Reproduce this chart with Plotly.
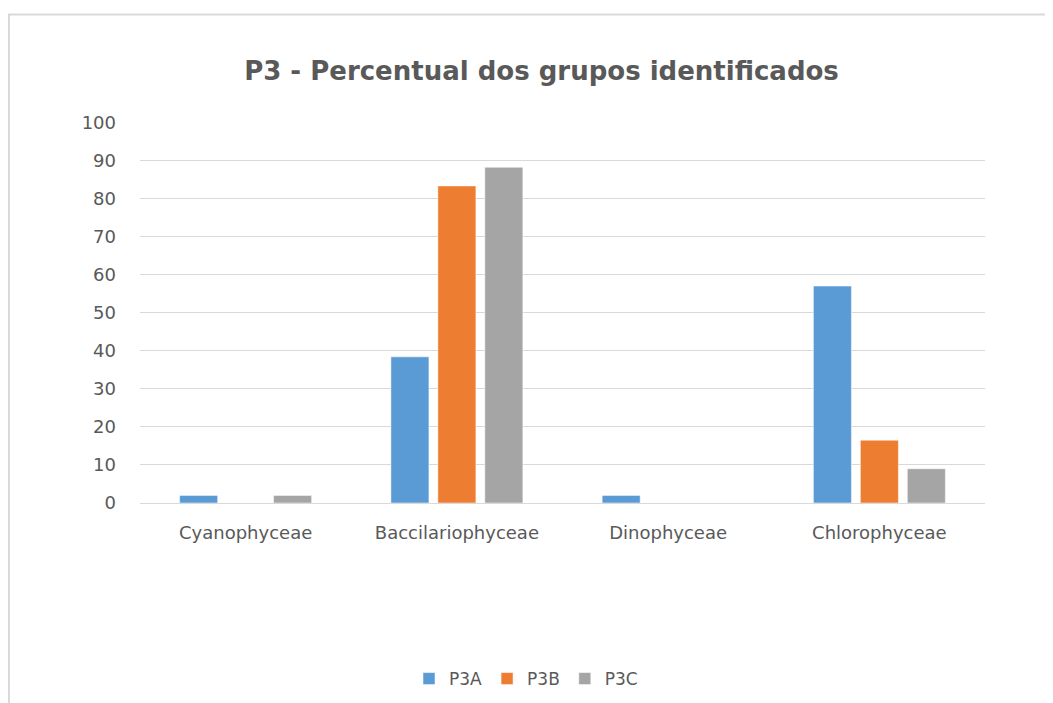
import plotly.graph_objects as go

categories = ["Cyanophyceae", "Baccilariophyceae", "Dinophyceae", "Chlorophyceae"]
p3a = [2.0, 38.4, 2.0, 57.0]
p3b = [0.0, 83.3, 0.0, 16.5]
p3c = [2.0, 88.2, 0.0, 9.0]
series_names = ["P3A", "P3B", "P3C"]
colors = ["#5B9BD5", "#ED7D31", "#A5A5A5"]
y_ticks = list(range(0, 101, 10))

fig = go.Figure()
for name, vals, col in zip(series_names, [p3a, p3b, p3c], colors):
    fig.add_trace(go.Bar(x=categories, y=vals, name=name,
                         marker=dict(color=col, line=dict(color="rgba(255,255,255,0.5)", width=1))))

# page has an 8px body margin, so figure coords = reference coords - 8
W, H = 1045, 695
L, R, T, B = 132, 977, 114, 495
pw, ph = R - L, B - T

def px_x(x):
    return (x - L) / pw

def px_y(y):
    return (B - y) / ph

font_main = "DejaVu Sans, Verdana, sans-serif"

fig.update_layout(
    width=W, height=H,
    margin=dict(l=L, r=W - R, t=T, b=H - B, autoexpand=False),
    paper_bgcolor="white", plot_bgcolor="white",
    barmode="group", bargap=0.333, bargroupgap=0.19,
    font=dict(family=font_main, color="#595959"),
    title=dict(text="<b>P3 - Percentual dos grupos identificados</b>",
               x=533.5 / W, xanchor="center", y=1 - 63 / H, yanchor="middle",
               font=dict(size=26, color="#595959", family=font_main)),
    showlegend=True,
    legend=dict(orientation="h", x=px_x(518), xanchor="center", y=px_y(671), yanchor="middle",
                font=dict(size=17, color="#595959"), itemwidth=30, traceorder="normal"),
    shapes=[
        dict(type="line", xref="paper", yref="paper", x0=px_x(0), x1=px_x(W + 5), y0=px_y(6.5), y1=px_y(6.5),
             line=dict(color="#D9D9D9", width=2)),
        dict(type="line", xref="paper", yref="paper", x0=px_x(1), x1=px_x(1), y0=px_y(6), y1=px_y(H + 5),
             line=dict(color="#D9D9D9", width=2)),
    ],
)
fig.update_xaxes(showgrid=False, showline=True, linecolor="#D9D9D9", linewidth=1,
                 tickfont=dict(size=18, color="#595959"), ticks="", ticklabelstandoff=13)
fig.update_yaxes(range=[0, 100.1], tickvals=y_ticks, showgrid=True, gridcolor="#D9D9D9", gridwidth=1,
                 zeroline=False, showline=False, tickfont=dict(size=18, color="#595959"),
                 ticklabelstandoff=23)

fig.write_html("out.html")
